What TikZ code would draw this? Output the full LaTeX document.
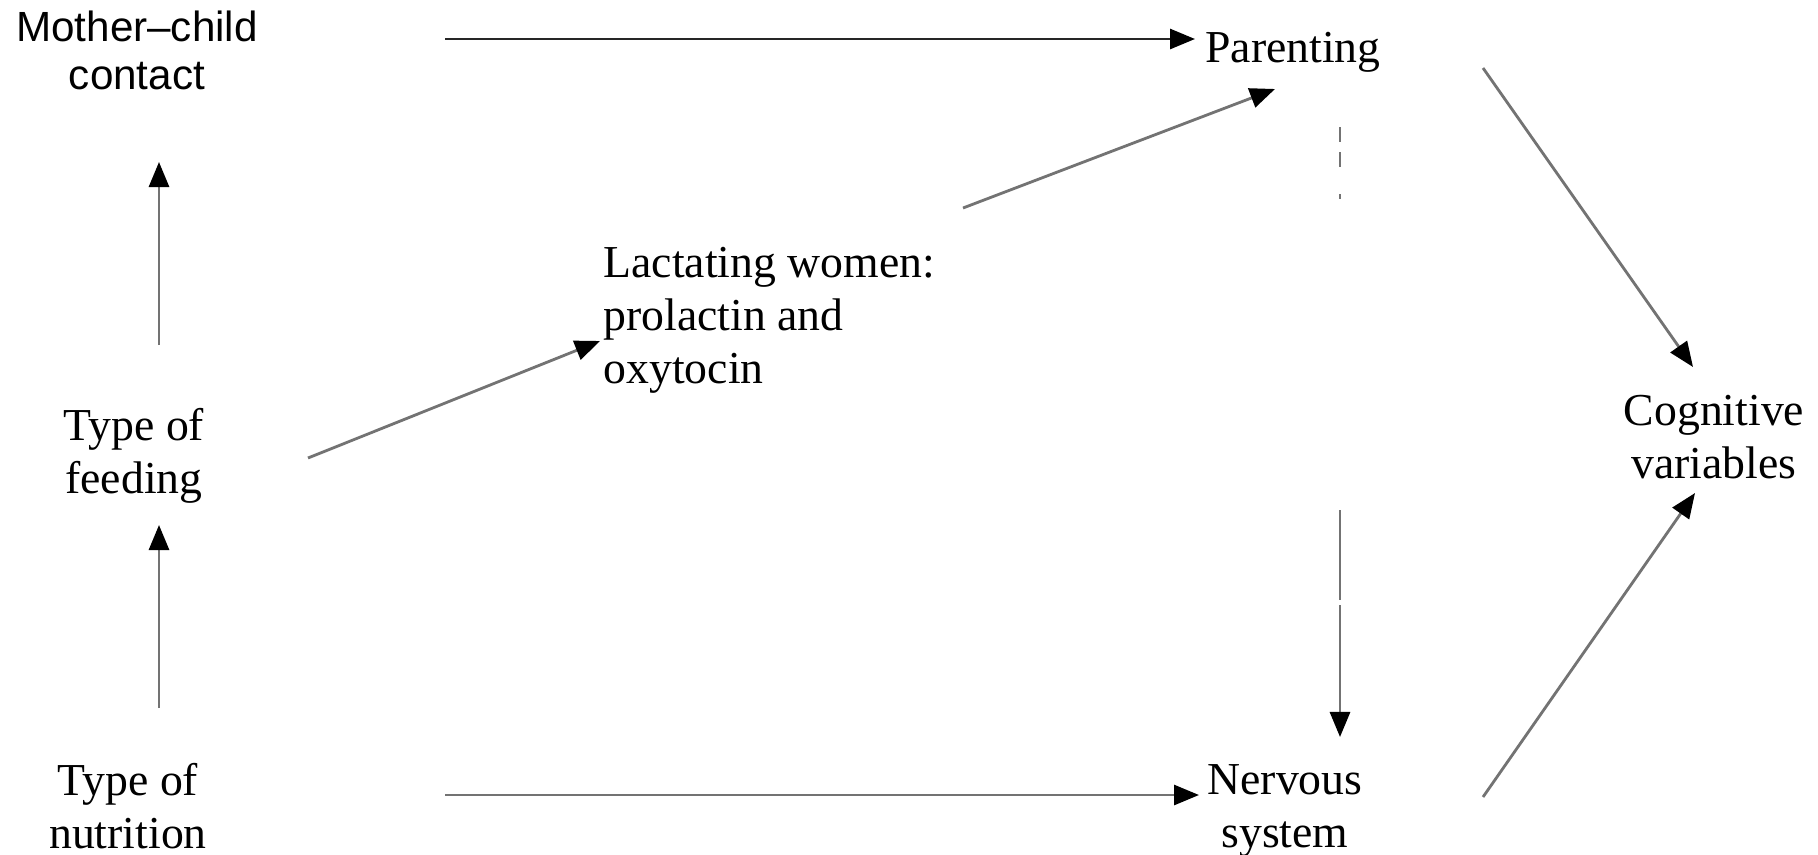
\documentclass[tikz,border=0pt]{standalone}
\usepackage{fontspec}
\setmainfont{Liberation Serif}
\newfontfamily\arialf[Ligatures=TeX]{Liberation Sans}
\usetikzlibrary{arrows.meta}
\begin{document}
\begin{tikzpicture}[x=0.01cm,y=-0.01cm,
  lbl/.style={inner sep=0pt,anchor=base,align=center,font=\fontsize{13pt}{15pt}\selectfont},
  arr/.style={draw=black!55,line width=0.8pt,-{Triangle[length=0.25cm,width=0.2cm,color=black]}},
  hyp/.style={arr,dash pattern=on 0.15cm off 0.1cm on 0.15cm off 0.27cm on 0.05cm off 3.11cm on 0.9cm off 0.05cm on 4cm}]
\useasboundingbox (0,0) rectangle (1818,854);
% base anchors sit on the last line of each label
\node[lbl,font=\arialf\fontsize{12pt}{13.4pt}\selectfont] (mc) at (137,89) {Mother–child\\contact};
\node[lbl] (par) at (1293,62) {Parenting};
\node[lbl,anchor=base west,align=left] (lac) at (603,383) {Lactating women:\\prolactin and\\oxytocin};
\node[lbl] (cog) at (1714,478) {Cognitive\\variables};
\node[lbl] (ner) at (1285,847) {Nervous\\system};
\node[lbl] (tf) at (134,493) {Type of\\feeding};
\node[lbl] (tn) at (128,848) {Type of\\nutrition};

\draw[arr,draw=black!85] ([shift={(308,-50)}]mc.base) -- ([shift={(-98,-23)}]par.base);
\draw[arr] ([shift={(360,-175)}]lac.base west) -- ([shift={(-18,27)}]par.base);
\draw[arr] ([shift={(174,-35)}]tf.base) -- ([shift={(-3,-42)}]lac.base west);
\draw[arr] ([shift={(25,-148)}]tf.base) -- ([shift={(22,73)}]mc.base);
\draw[arr] ([shift={(31,-140)}]tn.base) -- ([shift={(25,32)}]tf.base);
\draw[arr] ([shift={(317,-53)}]tn.base) -- ([shift={(-86,-52)}]ner.base);
\draw[hyp] ([shift={(47,65)}]par.base) -- ([shift={(55,-110)}]ner.base);
\draw[arr] ([shift={(190,6)}]par.base) -- ([shift={(-21,-111)}]cog.base);
\draw[arr] ([shift={(198,-50)}]ner.base) -- ([shift={(-19,15)}]cog.base);
\end{tikzpicture}
\end{document}
